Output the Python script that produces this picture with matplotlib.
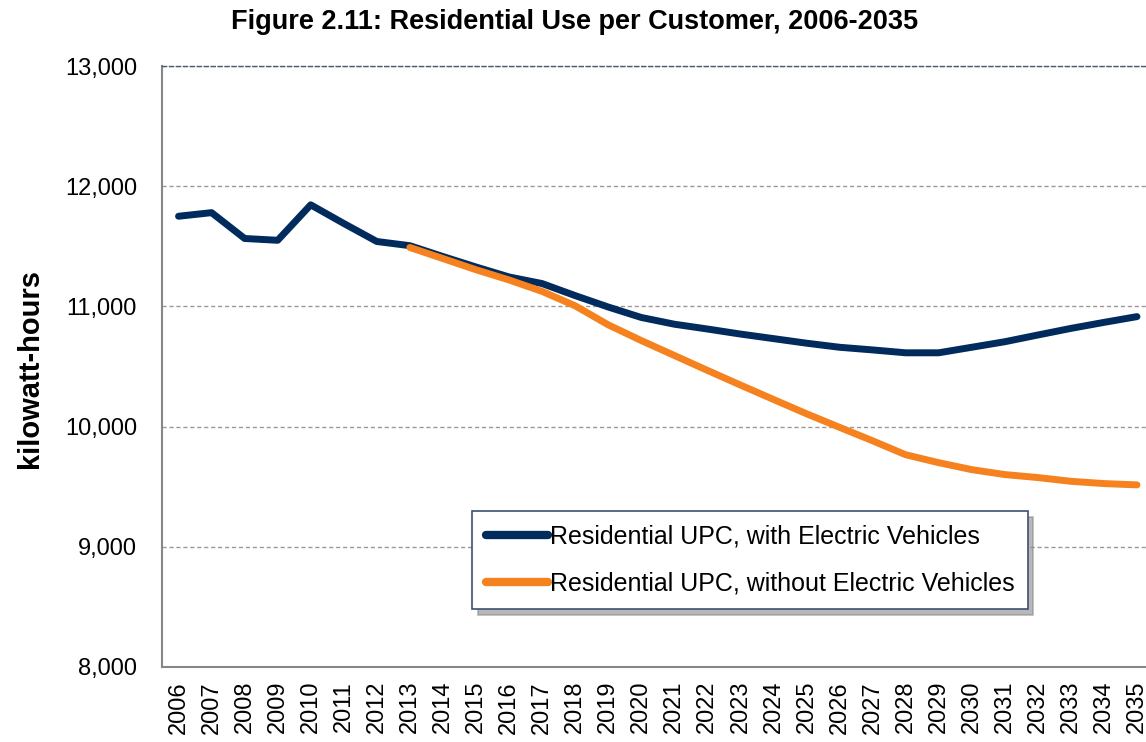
import matplotlib
matplotlib.use("Agg")
import matplotlib.pyplot as plt

plt.rcParams['font.family'] = ['Liberation Sans', 'DejaVu Sans']

# data
years = list(range(2006, 2036))
with_ev = [11750, 11780, 11565, 11550, 11845, 11690, 11540, 11505, 11415, 11328,
           11245, 11190, 11090, 10995, 10908, 10852, 10812, 10770, 10732, 10694,
           10660, 10638, 10614, 10614, 10660, 10706, 10762, 10817, 10867, 10915]
years_no_ev = list(range(2013, 2036))
without_ev = [11490, 11398, 11305, 11220, 11125, 11005, 10847, 10716, 10592, 10468,
              10346, 10226, 10107, 9994, 9882, 9766, 9700, 9642, 9601, 9576,
              9545, 9526, 9515]
y_ticks = [8000, 9000, 10000, 11000, 12000, 13000]

W, H = 1146, 742
fig = plt.figure(figsize=(W / 100, H / 100), dpi=100)
# axes runs a bit past the right edge, like the original
ax = fig.add_axes([162 / W, (H - 667) / H, 991.5 / W, 601 / H])

ax.plot(years, with_ev, color='#002B5C', lw=5, solid_capstyle='round',
        solid_joinstyle='round', label='Residential UPC, with Electric Vehicles', zorder=3)
ax.plot(years_no_ev, without_ev, color='#F5821F', lw=5, solid_capstyle='round',
        solid_joinstyle='round', label='Residential UPC, without Electric Vehicles', zorder=4)

ax.set_xlim(2005.5, 2035.5)
ax.set_ylim(8000, 13000)
ax.set_yticks(y_ticks)
ax.set_yticklabels([f'{v:,}' for v in y_ticks])
ax.set_xticks(years)
ax.set_xticklabels([str(y) for y in years], rotation=90)
ax.tick_params(axis='y', length=0, pad=18, labelsize=17)
ax.tick_params(axis='x', length=0, pad=10, labelsize=17)

ax.grid(axis='y', color='#999999', linestyle=(0, (3, 2)), lw=1)
ax.set_axisbelow(True)
ax.spines['right'].set_visible(False)
ax.spines['top'].set_color('#4a5a72')
ax.spines['top'].set_linestyle((0, (3, 2)))
ax.spines['top'].set_linewidth(1)
for s in ['left', 'bottom']:
    ax.spines[s].set_color('#868686')
    ax.spines[s].set_linewidth(1.5)

fig.text(575 / W, 1 - 22 / H, 'Figure 2.11: Residential Use per Customer, 2006-2035',
         ha='center', va='center', fontsize=19.5, fontweight='bold')
fig.text(30 / W, 1 - 368 / H, 'kilowatt-hours', rotation=90, ha='center', va='center',
         fontsize=21, fontweight='bold')

leg = ax.legend(loc='upper left', bbox_to_anchor=(472 / W, 1 - 511 / H),
                bbox_transform=fig.transFigure, borderaxespad=0, fontsize=18,
                handlelength=2.5, handletextpad=0.05, borderpad=0.55, labelspacing=0.9,
                fancybox=False, framealpha=1, edgecolor='#3e5070',
                shadow={'ox': 4, 'oy': -4, 'color': '#8a8a8a', 'alpha': 0.6})
leg.get_frame().set_linewidth(1.2)
for line in leg.get_lines():
    line.set_linewidth(6)

fig.savefig('out.png', dpi=100)
